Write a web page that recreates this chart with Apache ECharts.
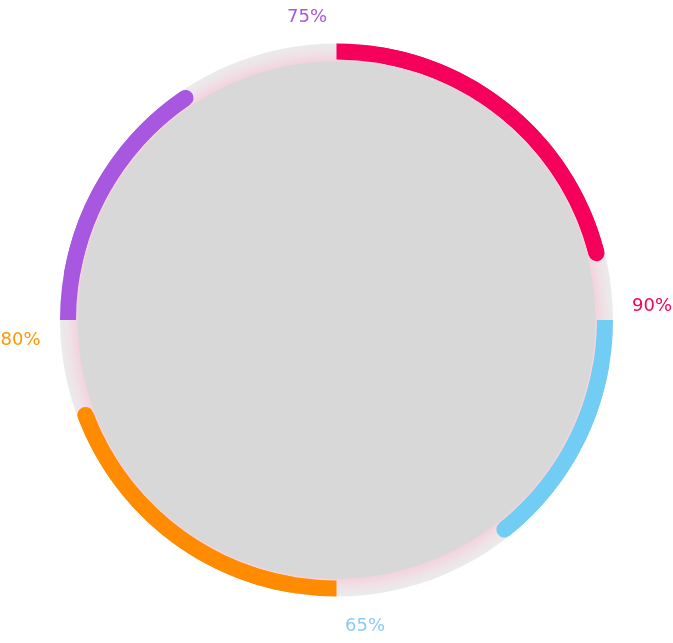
<!DOCTYPE html>
<html>
<head>
<meta charset="utf-8">
<script src="https://cdn.jsdelivr.net/npm/echarts@6/dist/echarts.min.js"></script>
<style>
html,body{margin:0;padding:0;background:#fff;}
#main{width:673px;height:643px;}
</style>
</head>
<body>
<div id="main"></div>
<script>
// Quadrant names (clockwise from 12 o'clock)
var categories = ['Red', 'Blue', 'Orange', 'Purple'];
// Label values shown as text
var labelValues = [90, 65, 80, 75];
// Arc fill (% of each quadrant)
var arcValues = [84, 57, 77, 62];
var colors = ['#f5005a', '#72cdf4', '#ff8c00', '#a857e0'];
var labelColors = ['#f5005a', '#8ccbf2', '#ff9800', '#a857e0'];

var quadrants = [[90, 0], [0, -90], [-90, -180], [180, 90]];
var labelOffsets = [[315.5, -14], [28.5, 306.5], [-316, 20], [-29.5, -302.5]];

var chart = echarts.init(document.getElementById('main'));
var series = [
  {
    type: 'pie', radius: [0, '80.9%'], center: ['50%', 320],
    silent: true, label: {show: false}, labelLine: {show: false},
    itemStyle: {color: '#d8d8d8'}, z: 1,
    data: [{value: 1, name: 'disk'}]
  },
  {
    type: 'pie', radius: ['80.5%', '86%'], center: ['50%', 320],
    silent: true, label: {show: false}, labelLine: {show: false}, z: 1,
    itemStyle: {
      color: new echarts.graphic.RadialGradient(0.5, 0.5, 0.5, [
        {offset: 0.93, color: '#f5cfdc'},
        {offset: 0.97, color: '#eee3e7'},
        {offset: 1, color: '#ebebeb'}
      ])
    },
    data: [{value: 1, name: 'track'}]
  }
];
var hidden = {
  splitLine: {show: false}, axisTick: {show: false}, axisLabel: {show: false},
  pointer: {show: false}, anchor: {show: false}, title: {show: false}
};
var shift = 10; // degrees: the rounded copy starts inside the flat arc
categories.forEach(function (c, i) {
  var qs = quadrants[i][0], qe = quadrants[i][1];
  // flat-start arc with the label
  series.push(Object.assign({
    type: 'gauge', name: c,
    center: ['50%', 320], radius: '86%',
    startAngle: qs, endAngle: qe,
    min: 0, max: 100, z: 3,
    progress: {show: true, width: 16, roundCap: false, itemStyle: {color: colors[i]}},
    axisLine: {show: false, lineStyle: {width: 16}},
    detail: {
      show: true, valueAnimation: false,
      offsetCenter: labelOffsets[i],
      formatter: (function (v) { return function () { return v + '%'; }; })(labelValues[i]),
      color: labelColors[i], fontSize: 18, fontWeight: 'normal',
      fontFamily: '"DejaVu Sans", sans-serif'
    },
    data: [{value: arcValues[i], name: c}]
  }, hidden));
  // rounded end cap copy (starts inside the flat arc)
  series.push(Object.assign({
    type: 'gauge', name: c + ' cap',
    center: ['50%', 320], radius: '86%',
    startAngle: qs - shift, endAngle: qe,
    min: shift * 100 / 90, max: 100, z: 3,
    progress: {show: true, width: 16, roundCap: true, itemStyle: {color: colors[i]}},
    axisLine: {show: false, lineStyle: {width: 16}},
    detail: {show: false},
    data: [{value: arcValues[i], name: c}]
  }, hidden));
});
chart.setOption({animation: false, backgroundColor: '#fff', series: series});
</script>
</body>
</html>
